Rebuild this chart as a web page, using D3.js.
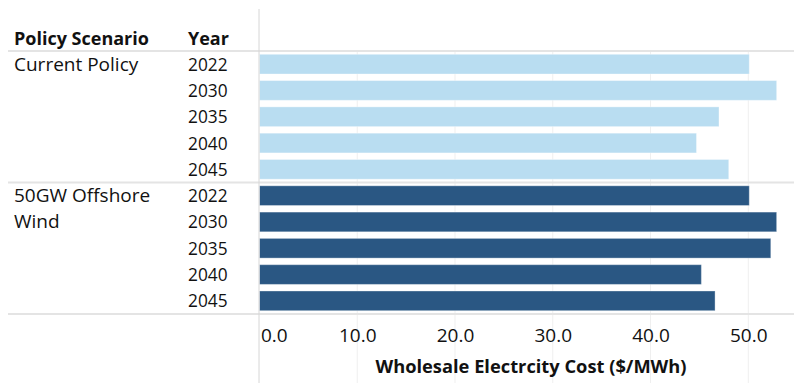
<!DOCTYPE html>
<html>
<head>
<meta charset="utf-8">
<script src="https://cdn.jsdelivr.net/npm/d3@7"></script>
<style>
  html, body { margin: 0; padding: 0; background: #fff; }
  svg { display: block; }
  text { font-family: "Open Sans", sans-serif; fill: #111; }
</style>
</head>
<body>
<svg id="chart" width="794" height="383"></svg>
<script>
const scenarios = ["Current Policy", "50GW Offshore Wind"];
const scenarioLines = [["Current Policy"], ["50GW Offshore", "Wind"]];
const years = ["2022", "2030", "2035", "2040", "2045"];
const currentPolicy = [50.1, 52.9, 47.0, 44.7, 48.0];
const offshoreWind = [50.1, 52.9, 52.3, 45.2, 46.6];
const tickValues = [0, 10, 20, 30, 40, 50];
const colors = ["#b9ddf1", "#2a5783"];
const headers = ["Policy Scenario", "Year"];
const axisTitle = "Wholesale Electrcity Cost ($/MWh)";

const svg = d3.select("#chart");
const W = 794, H = 383;
const paneLeft = 259.5, paneTop = 51, paneBottom = 314;

const rows = [];
[currentPolicy, offshoreWind].forEach((vals, si) => {
  years.forEach((yr, yi) => rows.push({ scenario: si, year: yr, value: vals[yi], key: si + "-" + yr }));
});

const x = d3.scaleLinear().domain([0, 50]).range([paneLeft, 748.3]);
const y = d3.scaleBand().domain(rows.map(d => d.key)).range([paneTop, paneBottom])
  .paddingInner(0.25).paddingOuter(0.125);
const step = y.step();

// gridlines
svg.append("g").selectAll("line").data(tickValues.filter(t => t > 0)).join("line")
  .attr("x1", d => x(d)).attr("x2", d => x(d))
  .attr("y1", paneTop).attr("y2", H)
  .attr("stroke", "#efefef").attr("stroke-width", 1);

// bars
svg.append("g").selectAll("rect").data(rows).join("rect")
  .attr("x", x(0))
  .attr("y", d => y(d.key))
  .attr("width", d => x(d.value) - x(0))
  .attr("height", y.bandwidth())
  .attr("fill", d => colors[d.scenario])
  .attr("stroke", "rgba(255,255,255,0.35)")
  .attr("stroke-width", 1);

// horizontal separators
const sepY = [paneTop, paneTop + step * years.length, paneBottom];
svg.append("g").selectAll("line").data(sepY).join("line")
  .attr("x1", 8).attr("x2", W)
  .attr("y1", d => d).attr("y2", d => d)
  .attr("stroke", "#e4e4e4").attr("stroke-width", 2);

// vertical pane line
svg.append("line")
  .attr("x1", 259).attr("x2", 259).attr("y1", 9).attr("y2", H)
  .attr("stroke", "#d6d6d6").attr("stroke-width", 1);

// headers
svg.append("g").selectAll("text").data(headers).join("text")
  .attr("x", (d, i) => i === 0 ? 14 : 188)
  .attr("y", 45)
  .style("font-size", "18px").style("font-weight", "700")
  .text(d => d);

// year labels
svg.append("g").selectAll("text").data(rows).join("text")
  .attr("x", 188)
  .attr("y", d => y(d.key) + y.bandwidth() / 2 + 6.5)
  .style("font-size", "17.3px")
  .text(d => d.year);

// scenario labels
scenarioLines.forEach((lines, si) => {
  const firstKey = si + "-" + years[0];
  svg.append("text")
    .attr("x", 14)
    .attr("y", y(firstKey) + y.bandwidth() / 2 + 6.5)
    .style("font-size", "19px")
    .selectAll("tspan").data(lines).join("tspan")
    .attr("x", 14)
    .attr("dy", (d, i) => i === 0 ? 0 : 26)
    .text(d => d);
});

// axis
const axis = d3.axisBottom(x).tickValues(tickValues).tickFormat(d3.format(".1f")).tickSize(0).tickPadding(0);
const ag = svg.append("g").attr("transform", `translate(0,${paneBottom})`).call(axis);
ag.select(".domain").remove();
ag.selectAll("text")
  .attr("y", 28)
  .attr("dy", 0)
  .style("font-size", "19px")
  .style("font-family", "'Open Sans', sans-serif")
  .attr("fill", "#111")
  .attr("text-anchor", d => d === 0 ? "start" : "middle")
  .attr("x", d => d === 0 ? 1 : 0);

svg.append("text")
  .attr("x", 531).attr("y", 373)
  .attr("text-anchor", "middle")
  .style("font-size", "18.3px").style("font-weight", "700")
  .text(axisTitle);
</script>
</body>
</html>
